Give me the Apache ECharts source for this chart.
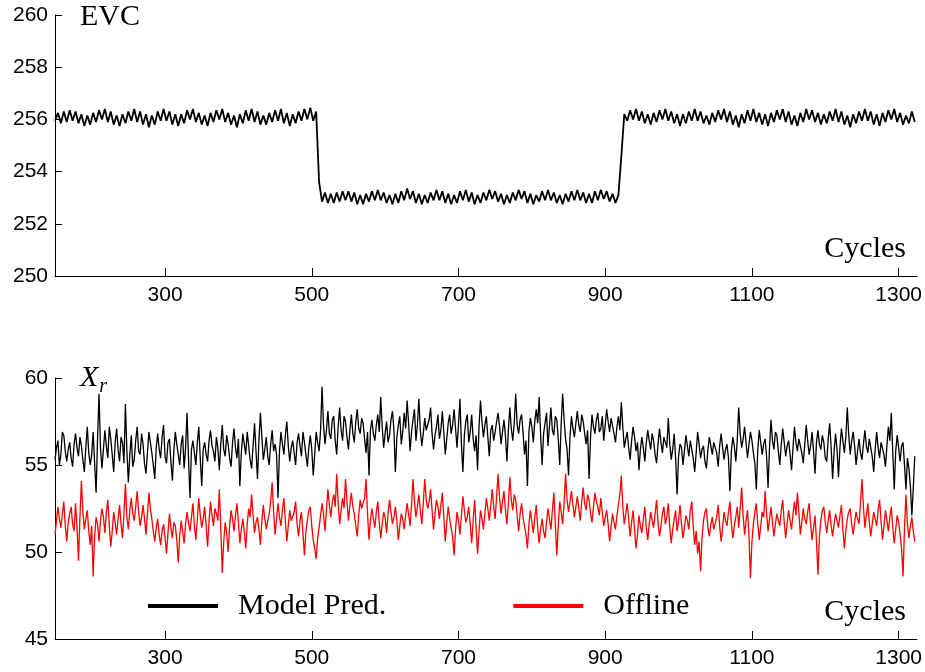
<!DOCTYPE html>
<html>
<head>
<meta charset="utf-8">
<script src="https://cdn.jsdelivr.net/npm/echarts@6/dist/echarts.min.js"></script>
<style>html,body{margin:0;padding:0;background:#fff}#c{width:925px;height:672px}</style>
</head>
<body>
<div id="c"></div>
<script>
// x sampling grids (cycles)
const cycleStart = 150;
const evcStep = 4;
const xrStep = 2;
const xTicks = [300, 500, 700, 900, 1100, 1300];

// EVC (top panel), one value every 4 cycles from 150
const evc = [
255.95,256.25,255.85,256.3,255.9,256.35,255.95,256.3,255.85,256.2,255.75,256.15,255.8,256.25,255.9,256.35,256.0,256.4,255.9,256.3,255.8,256.15,255.75,256.2,255.85,
256.3,255.95,256.4,255.9,256.3,255.8,256.2,255.7,256.15,255.8,256.3,255.95,256.4,255.95,256.3,255.8,256.2,255.75,256.2,255.85,256.35,256.0,256.4,255.9,256.25,
255.8,256.15,255.75,256.25,255.9,256.35,256.0,256.4,255.9,256.25,255.8,256.15,255.7,256.2,255.85,256.35,255.95,256.4,255.9,256.3,255.8,256.15,255.8,256.25,255.9,
256.35,255.95,256.4,255.85,256.25,255.75,256.2,255.85,256.3,255.95,256.4,256.0,256.45,255.95,256.3,253.6,252.85,253.2,252.8,253.15,252.8,253.2,252.85,253.25,252.9,
253.25,252.85,253.2,252.75,253.1,252.75,253.15,252.85,253.25,252.9,253.3,252.9,253.2,252.8,253.1,252.75,253.15,252.8,253.25,252.9,253.35,252.95,253.25,252.8,253.15,
252.75,253.1,252.8,253.2,252.9,253.3,252.9,253.25,252.8,253.15,252.75,253.1,252.8,253.25,252.9,253.3,252.85,253.2,252.75,253.1,252.8,253.2,252.9,253.3,252.95,
253.25,252.85,253.15,252.75,253.1,252.8,253.2,252.9,253.3,252.95,253.25,252.8,253.15,252.75,253.1,252.85,253.25,252.9,253.3,252.9,253.2,252.8,253.1,252.75,253.15,
252.85,253.25,252.9,253.3,252.9,253.2,252.8,253.15,252.8,253.25,252.9,253.3,252.95,253.25,252.85,253.15,252.8,253.1,254.6,256.2,255.95,256.35,256.0,256.4,255.95,
256.3,255.85,256.2,255.8,256.25,255.9,256.35,256.0,256.4,255.95,256.3,255.85,256.2,255.75,256.2,255.85,256.3,255.95,256.4,255.95,256.3,255.85,256.15,255.8,256.25,
255.9,256.35,256.0,256.4,255.9,256.3,255.8,256.15,255.7,256.2,255.85,256.35,255.95,256.4,255.9,256.25,255.8,256.2,255.75,256.25,255.9,256.35,256.0,256.4,255.9,
256.3,255.8,256.15,255.75,256.25,255.9,256.4,256.0,256.35,255.9,256.25,255.8,256.2,255.85,256.3,255.95,256.4,255.9,256.3,255.8,256.15,255.7,256.2,255.85,256.3,
255.95,256.4,255.95,256.3,255.8,256.2,255.75,256.25,255.9,256.35,256.0,256.4,255.9,256.25,255.8,256.15,255.85,256.3,255.9
];

// X_r, Model Pred. (black), one value every 2 cycles from 150
const modelPred = [
55.3,56.0,56.4,55.0,55.6,56.9,56.7,55.8,55.2,55.9,56.3,55.4,54.9,56.2,56.8,56.0,55.5,56.6,56.1,55.3,54.6,56.0,57.2,55.7,55.0,55.6,56.9,55.1,53.4,56.5,59.1,56.0,54.8,55.9,57.0,56.1,55.4,57.2,56.5,55.6,54.6,56.3,57.1,55.9,55.2,56.6,56.3,55.1,58.5,55.8,
54.0,55.6,56.7,54.9,55.3,56.4,57.2,55.8,55.6,56.8,56.2,55.1,54.5,55.7,56.9,56.3,55.7,55.0,54.2,56.0,56.8,55.9,55.4,56.6,57.3,55.5,55.1,56.3,56.5,55.2,54.1,55.8,56.9,56.2,55.6,55.0,56.2,56.7,54.8,56.0,58.0,55.4,53.1,55.9,56.4,55.7,55.0,56.3,57.2,55.4,
53.8,55.9,56.3,55.6,55.2,56.4,57.0,56.1,55.8,55.2,56.6,56.0,54.7,56.2,57.3,55.9,55.5,56.7,56.2,55.4,54.9,56.3,57.1,56.0,55.4,56.5,53.8,55.7,56.8,56.2,55.6,56.9,56.9,55.3,54.8,56.1,57.4,55.8,54.2,56.4,58.0,56.6,55.3,55.9,56.6,55.5,55.0,56.2,57.0,55.8,
56.2,55.6,53.1,55.8,56.9,56.2,55.6,56.7,57.5,56.1,55.2,56.0,56.4,55.7,55.0,56.3,56.8,56.1,55.5,56.9,56.3,55.6,54.9,56.0,56.7,55.9,54.4,55.6,56.9,56.3,55.8,57.0,59.5,57.3,56.2,57.0,58.1,56.8,56.5,57.6,57.8,56.4,55.6,57.2,58.3,57.0,56.4,57.8,57.5,56.6,
55.9,57.0,57.9,56.8,56.3,57.5,58.2,57.1,56.8,57.7,57.4,56.5,55.7,56.9,54.4,57.0,57.6,56.8,56.4,57.3,57.9,56.9,58.9,57.2,56.0,56.8,57.5,56.3,56.7,57.6,58.1,57.0,54.6,56.6,57.3,57.8,56.2,56.9,58.0,57.1,58.7,57.4,55.8,56.9,57.6,58.2,56.4,57.3,58.8,57.0,
56.1,56.8,57.7,57.0,56.9,57.6,58.3,56.8,55.9,56.7,57.2,57.9,56.5,57.0,58.1,56.9,55.6,56.5,57.4,57.9,56.8,57.3,58.2,57.1,56.0,57.3,58.8,56.2,54.6,56.7,57.5,57.9,56.3,56.9,57.9,56.5,55.8,56.7,54.7,57.2,58.7,57.5,56.6,57.3,57.8,56.6,55.5,57.0,57.3,56.4,
56.9,57.5,58.0,57.2,56.2,56.9,57.6,56.7,55.2,57.0,58.3,57.1,56.4,57.4,59.1,57.3,56.8,57.6,57.9,56.9,55.6,56.4,53.8,56.9,57.7,57.2,56.3,57.5,58.2,57.4,58.9,56.7,55.0,56.8,57.4,58.0,56.1,57.2,58.3,57.0,56.7,57.8,57.6,56.5,55.0,57.4,59.1,57.6,56.5,55.9,
54.4,56.6,57.8,57.1,56.6,57.4,58.1,57.3,56.9,57.9,57.5,56.8,56.2,57.0,54.2,56.6,57.9,57.2,56.8,57.6,58.0,56.9,57.1,57.8,56.4,57.3,58.2,57.5,56.9,57.7,57.6,56.8,56.3,57.2,57.8,57.0,58.6,57.2,56.0,56.5,56.9,56.0,55.3,56.4,57.2,56.6,55.8,56.3,54.7,55.9,
56.6,56.0,55.2,56.3,57.0,56.4,55.9,56.8,56.4,55.6,55.1,56.2,57.1,56.3,55.7,56.6,56.5,56.0,57.7,56.2,55.3,55.9,56.8,55.4,53.3,55.5,56.2,56.0,55.0,55.8,56.7,56.1,55.5,56.4,56.3,55.4,54.6,55.7,56.9,56.2,55.4,55.9,56.1,55.2,54.8,55.9,56.6,56.1,55.6,56.3,
56.4,55.7,54.9,56.1,56.8,56.0,55.3,55.9,56.2,55.4,53.5,55.8,56.6,56.1,55.2,56.4,58.3,56.8,56.0,56.5,57.2,56.3,55.4,56.2,56.9,56.4,55.7,55.1,53.6,55.9,57.0,56.3,55.6,56.2,56.5,55.5,53.7,56.0,57.6,56.4,55.9,56.9,56.7,55.8,55.0,56.2,57.1,56.3,55.5,56.1,
56.4,55.6,54.7,56.0,57.2,56.3,55.8,56.5,56.6,55.7,55.1,56.2,57.3,56.4,55.6,56.1,56.9,55.8,54.5,56.3,57.0,56.2,55.9,56.7,56.3,55.4,55.2,56.5,57.4,56.0,54.2,55.8,56.8,55.9,54.3,56.0,57.1,56.4,55.7,56.6,58.3,56.7,55.6,56.4,56.9,56.1,55.0,55.8,56.5,55.7,
55.3,56.2,57.0,56.1,55.7,56.5,56.4,55.5,54.6,55.9,56.9,56.0,55.4,56.3,56.2,55.6,54.9,56.1,57.2,56.4,58.0,55.7,53.6,55.8,56.7,56.0,55.2,56.1,56.3,55.0,53.6,55.4,54.8,53.8,52.1,53.7,55.5
];

// X_r, Offline (red), one value every 2 cycles from 150
const offline = [
51.0,51.8,52.6,51.9,51.4,52.2,52.9,51.5,50.6,51.7,52.2,52.6,51.6,51.2,52.8,51.4,49.5,52.0,54.1,52.3,51.3,51.9,52.4,51.2,50.4,51.5,48.6,50.9,52.0,51.6,50.6,51.8,52.5,52.0,51.1,52.3,53.0,51.5,50.3,51.2,52.3,51.7,51.0,51.9,52.7,51.6,50.8,52.2,53.9,52.0,
51.3,52.4,53.1,52.2,51.8,52.6,53.5,52.3,51.5,52.0,52.7,51.9,51.0,52.2,53.4,52.5,51.9,51.2,50.6,51.4,51.9,51.0,50.4,51.2,51.6,50.8,49.9,51.1,52.2,51.4,50.8,51.7,51.5,50.7,49.4,50.9,51.8,51.2,50.5,51.6,52.3,51.7,51.2,52.0,52.8,51.5,50.7,51.9,53.1,52.1,
51.4,51.9,52.6,51.5,50.3,51.8,52.9,52.1,51.5,52.5,52.2,51.8,53.6,51.4,48.8,50.6,51.7,51.1,50.0,51.5,52.4,51.9,51.2,52.1,52.8,51.7,50.5,51.3,51.9,51.2,50.2,51.6,52.5,52.0,53.3,52.1,51.1,51.7,52.0,51.3,50.4,51.8,52.7,51.9,51.3,51.8,52.2,52.9,54.0,52.3,
51.0,51.9,52.8,52.0,51.5,52.4,53.1,51.8,50.6,51.5,52.4,51.8,51.7,52.3,52.9,51.6,50.9,51.8,52.3,51.1,49.8,51.2,51.8,52.4,52.6,51.5,50.7,50.2,49.6,50.8,51.4,52.1,52.8,52.2,51.2,52.4,53.6,52.7,52.0,52.9,53.3,52.6,54.5,52.8,51.6,52.4,53.1,52.5,54.2,52.9,
51.8,52.7,53.4,52.6,52.2,51.5,50.9,52.1,53.0,52.5,52.4,53.1,54.2,52.2,50.7,51.8,52.5,51.9,51.4,52.3,52.9,51.7,50.8,51.6,52.3,52.0,51.1,52.2,53.0,52.3,51.6,52.0,52.6,51.8,50.7,51.5,52.2,51.9,51.3,52.1,52.8,52.2,51.5,52.7,54.2,52.9,52.0,52.6,53.3,52.4,
51.6,52.8,54.2,53.0,52.5,52.9,53.6,52.4,51.3,52.2,53.0,52.6,51.9,52.7,53.4,52.0,50.6,51.7,52.6,51.9,51.4,50.9,49.8,51.3,52.3,51.8,51.0,52.1,53.2,52.4,51.7,52.0,52.6,51.6,50.5,51.8,53.0,51.4,49.9,51.2,52.4,51.9,51.3,52.2,53.1,52.5,51.8,52.7,53.6,52.6,
51.9,53.2,54.5,53.1,52.2,52.9,53.5,52.4,51.6,52.8,54.3,53.0,52.4,53.3,53.0,52.1,51.2,52.2,52.8,52.0,51.5,51.0,50.2,51.6,52.4,51.7,51.1,52.0,52.7,51.4,50.5,51.3,51.9,51.2,50.8,51.7,52.5,51.9,51.3,52.4,53.4,51.6,49.8,51.5,52.9,52.3,51.6,52.8,54.5,53.0,
52.3,52.9,53.5,52.7,52.0,52.6,53.2,52.5,51.8,52.9,53.7,52.8,52.4,53.3,53.0,52.2,51.7,52.6,53.4,52.9,52.6,52.1,53.1,52.3,51.5,52.0,52.4,51.6,50.6,51.5,52.2,51.7,51.3,52.1,52.7,53.3,54.4,52.6,51.6,52.2,52.8,51.9,50.9,51.7,52.4,51.3,50.2,51.0,52.1,51.5,
51.1,51.9,52.6,51.4,50.7,51.6,52.3,51.8,51.4,52.2,53.0,51.7,50.9,51.5,52.2,52.6,51.6,52.0,52.8,51.4,50.5,51.3,51.9,52.4,51.2,51.8,52.7,51.6,50.8,51.4,52.1,51.8,51.3,52.4,52.9,51.5,50.4,51.2,49.9,50.6,48.9,50.8,51.8,52.3,52.5,51.4,50.9,51.6,52.0,51.3,
51.2,52.0,52.7,51.5,50.6,51.4,52.3,51.8,51.5,52.3,52.9,51.6,50.8,51.5,52.0,52.6,51.4,52.5,53.7,52.1,51.0,51.8,52.4,50.9,48.5,50.6,51.6,52.3,52.8,51.6,50.7,51.5,52.3,52.0,53.5,52.2,51.2,51.9,52.6,51.7,50.9,51.6,52.2,51.8,51.5,52.4,53.0,51.7,50.8,51.6,
52.4,51.8,51.3,52.2,52.9,52.1,53.4,52.3,51.0,51.7,52.5,51.9,51.6,52.3,52.8,51.6,50.7,51.4,52.1,50.6,48.7,50.9,51.8,52.4,52.6,51.7,51.1,51.8,52.4,51.5,50.9,51.6,52.2,51.8,51.4,52.1,52.7,51.3,50.2,51.2,51.9,52.3,52.5,51.6,51.0,51.7,52.3,51.9,51.6,52.8,
54.2,52.6,51.4,52.1,52.8,51.7,50.9,51.6,52.3,51.9,51.5,52.4,53.0,51.8,50.7,51.5,52.4,51.8,51.2,52.0,52.6,51.4,50.5,51.3,52.1,51.7,51.0,50.2,48.6,51.4,53.3,51.6,50.8,51.5,52.0,51.2,50.6
];

const toPairs = (arr, step) => arr.map((v, i) => [cycleStart + i * step, v]);

const sansFont = 'Liberation Sans';
const serifFont = 'Liberation Serif';

function xAxisFor(gi) {
  return {
    type: 'value', gridIndex: gi, min: 150, max: 1325,
    axisLine: { show: true, lineStyle: { color: '#000', width: 1 } },
    axisTick: { show: true, inside: true, length: 8, customValues: xTicks, lineStyle: { color: '#000' } },
    axisLabel: { customValues: xTicks, formatter: v => String(v), color: '#000', fontFamily: sansFont, fontSize: 21, margin: 9 },
    splitLine: { show: false }
  };
}
function yAxisFor(gi, min, max, interval) {
  return {
    type: 'value', gridIndex: gi, min: min, max: max, interval: interval,
    axisLine: { show: true, lineStyle: { color: '#000', width: 1 } },
    axisTick: { show: true, inside: true, length: 7, lineStyle: { color: '#000' } },
    axisLabel: { color: '#000', fontFamily: sansFont, fontSize: 21, margin: 7 },
    splitLine: { show: false }
  };
}

const chart = echarts.init(document.getElementById('c'), null, { renderer: 'canvas' });
chart.setOption({
  backgroundColor: '#fff',
  animation: false,
  grid: [
    { left: 55, right: 8, top: 15, height: 261 },
    { left: 55, right: 8, top: 378, height: 261 }
  ],
  xAxis: [xAxisFor(0), xAxisFor(1)],
  yAxis: [yAxisFor(0, 250, 260, 2), yAxisFor(1, 45, 60, 5)],
  legend: {
    left: 148, top: 591, padding: 0,
    itemWidth: 70, itemHeight: 4, itemGap: 127, icon: 'rect',
    data: ['Model Pred.', 'Offline'],
    textStyle: { fontFamily: serifFont, fontSize: 30, color: '#000', padding: [0, 0, 0, 15] }
  },
  graphic: [
    { type: 'text', left: 80, top: 2, style: { text: 'EVC', font: '30px "Liberation Serif"', fill: '#000' } },
    { type: 'text', right: 19, top: 234, style: { text: 'Cycles', font: '30px "Liberation Serif"', fill: '#000' } },
    { type: 'text', right: 19, top: 597, style: { text: 'Cycles', font: '30px "Liberation Serif"', fill: '#000' } },
    { type: 'text', left: 80, top: 363, style: {
        text: '{x|X}{r|r}',
        rich: {
          x: { font: 'italic 30px "Liberation Serif"', fill: '#000', color: '#000' },
          r: { font: 'italic 20px "Liberation Serif"', fill: '#000', color: '#000', padding: [18, 0, 0, 1] }
        }
    } }
  ],
  series: [
    { name: 'EVC', type: 'line', xAxisIndex: 0, yAxisIndex: 0, data: toPairs(evc, evcStep), showSymbol: false, lineStyle: { color: '#000', width: 1.8 }, itemStyle: { color: '#000' } },
    { name: 'Model Pred.', type: 'line', xAxisIndex: 1, yAxisIndex: 1, data: toPairs(modelPred, xrStep), showSymbol: false, lineStyle: { color: '#000', width: 1.3 }, itemStyle: { color: '#000' } },
    { name: 'Offline', type: 'line', xAxisIndex: 1, yAxisIndex: 1, data: toPairs(offline, xrStep), showSymbol: false, lineStyle: { color: '#ff0000', width: 1.3 }, itemStyle: { color: '#ff0000' } }
  ]
});
</script>
</body>
</html>
